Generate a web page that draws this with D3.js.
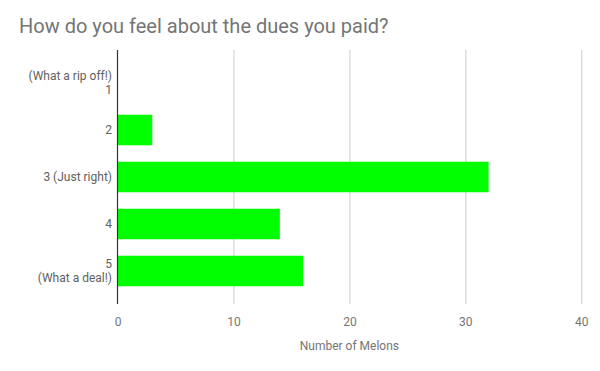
<!DOCTYPE html>
<html><head><meta charset="utf-8">
<script src="https://cdn.jsdelivr.net/npm/d3@7"></script>
<style>body{margin:0;background:#fff}svg{display:block}text{font-family:Roboto,"Noto Sans",sans-serif}</style>
</head><body><svg id="c" width="600" height="371"></svg>
<script>
const categories = [["(What a rip off!)","1"],["2"],["3 (Just right)"],["4"],["5","(What a deal!)"]];
const values = [0, 3, 32, 14, 16];
const xTicks = [0, 10, 20, 30, 40];
const title = "How do you feel about the dues you paid?";
const xTitle = "Number of Melons";

(function(){
const svg = d3.select("#c");
const mLeft = 117.5, mRight = 581.3, mTop = 50, mBottom = 304;
const x = d3.scaleLinear().domain([0, 40]).range([mLeft, mRight]);
const y = d3.scaleBand().domain(d3.range(categories.length)).range([mTop, mBottom]).paddingInner(0.351).paddingOuter(0.378);

svg.append("rect").attr("width",600).attr("height",371).attr("fill","#fff");

const xAxis = d3.axisBottom(x).tickValues(xTicks).tickSize(-(mBottom-mTop)).tickFormat(d3.format("d"));
const gx = svg.append("g").attr("transform",`translate(0,${mBottom})`).call(xAxis);
gx.select(".domain").remove();
gx.selectAll(".tick line").attr("stroke","#cccccc").attr("stroke-width",1);
gx.selectAll(".tick text").attr("fill","#757575").attr("font-size",12).attr("dy","1.55em");
gx.selectAll(".tick").filter(d=>d===0).select("line").attr("stroke","none");

svg.append("g").selectAll("rect").data(values).join("rect")
  .attr("x", x(0)).attr("y",(d,i)=>y(i))
  .attr("width", d=>x(d)-x(0)).attr("height", y.bandwidth())
  .attr("fill","#00ff00");

svg.append("line").attr("x1",x(0)).attr("x2",x(0)).attr("y1",mTop).attr("y2",mBottom).attr("stroke","#333").attr("stroke-width",1.2);

const gy = svg.append("g");
categories.forEach((lines,i)=>{
  const cy = y(i) + y.bandwidth()/2;
  const t = gy.append("text").attr("x", mLeft-5.5).attr("text-anchor","end").attr("fill","#616161").attr("font-size",12);
  const n = lines.length;
  lines.forEach((l,j)=>{
    t.append("tspan").attr("x", mLeft-5.5).attr("y", cy + (j-(n-1)/2)*13.5).attr("dy","0.35em").text(l);
  });
});

svg.append("text").attr("x",19).attr("y",33).attr("fill","#757575").attr("font-size",20).text(title);
svg.append("text").attr("x",(mLeft+mRight)/2).attr("y",350).attr("text-anchor","middle").attr("fill","#757575").attr("font-size",12).text(xTitle);
})();
</script></body></html>
